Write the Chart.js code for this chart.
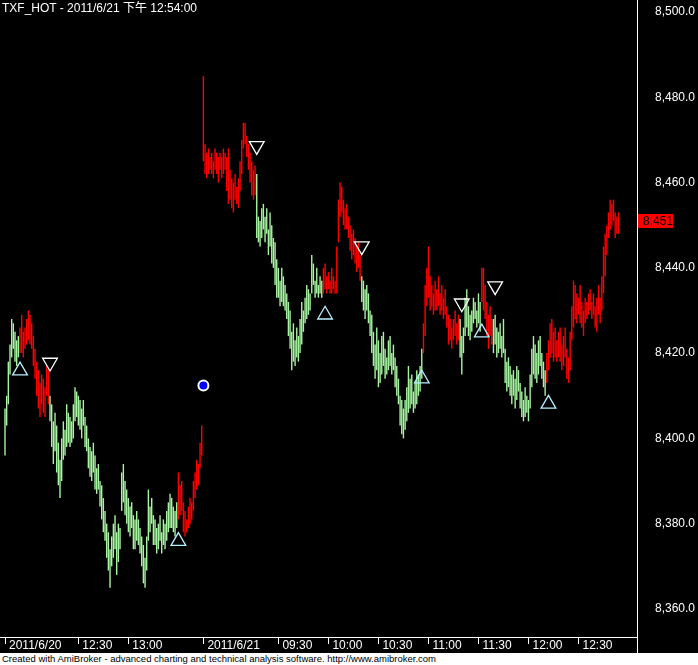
<!DOCTYPE html>
<html>
<head>
<meta charset="utf-8">
<script src="https://cdn.jsdelivr.net/npm/chart.js@4.4.0/dist/chart.umd.min.js"></script>
<style>
html, body { margin: 0; padding: 0; background: #000; width: 698px; height: 665px; overflow: hidden; }
#wrap { position: relative; width: 698px; height: 665px; }
#chart { position: absolute; left: 0; top: 0; }
#title { position: absolute; left: 2px; top: 0px; color: #fff; white-space: nowrap;
    font: 12px "Liberation Sans", Arial, "Noto Sans CJK TC", sans-serif; line-height: 16px; }
#foot { position: absolute; left: 0; top: 653px; width: 696px; height: 12px; padding-left: 2px;
    background: #fff; color: #000; white-space: nowrap;
    font: 9.5px "Liberation Sans", Arial, sans-serif; line-height: 12px; }
</style>
</head>
<body>
<div id="wrap">
    <canvas id="chart" width="698" height="653"></canvas>
    <div id="title">TXF_HOT - 2011/6/21 下午 12:54:00</div>
    <div id="foot">Created with AmiBroker - advanced charting and technical analysis software. http://www.amibroker.com</div>
</div>
<script>
// 1-minute bars: 2011/6/20 11:46-13:44 (0-118), 2011/6/21 08:45-12:54 (119-368)
const highs = [
    8407, 8410, 8418, 8422, 8428, 8427, 8425, 8423, 8424, 8426,
    8429, 8425, 8426, 8428, 8430, 8429, 8427, 8424, 8421, 8418,
    8416, 8413, 8415, 8414, 8412, 8417, 8416, 8410, 8408, 8404,
    8406, 8403, 8399, 8395, 8400, 8404, 8402, 8408, 8406, 8405,
    8404, 8408, 8412, 8411, 8410, 8409, 8407, 8409, 8405, 8403,
    8400, 8398, 8397, 8399, 8396, 8393, 8394, 8390, 8389, 8386,
    8383, 8380, 8378, 8374, 8377, 8380, 8382, 8378, 8380, 8379,
    8392, 8394, 8390, 8388, 8386, 8384, 8385, 8382, 8381, 8383,
    8381, 8379, 8377, 8375, 8372, 8377, 8388, 8384, 8386, 8382,
    8381, 8379, 8380, 8382, 8378, 8381, 8380, 8383, 8385, 8387,
    8386, 8384, 8383, 8385, 8392, 8389, 8390, 8385, 8383, 8381,
    8384, 8386, 8385, 8390, 8392, 8395, 8394, 8399, 8403, 8485,
    8469, 8467, 8468, 8466, 8467, 8465, 8468, 8467, 8466, 8467,
    8466, 8468, 8467, 8466, 8468, 8463, 8461, 8460, 8462, 8459,
    8461, 8465, 8470, 8474, 8474, 8471, 8469, 8467, 8465, 8463,
    8464, 8462, 8452, 8451, 8454, 8455, 8452, 8454, 8449, 8453,
    8450, 8447, 8446, 8442, 8440, 8437, 8440, 8438, 8436, 8434,
    8432, 8430, 8425, 8427, 8423, 8426, 8424, 8428, 8432, 8430,
    8433, 8436, 8435, 8434, 8443, 8441, 8437, 8440, 8436, 8438,
    8437, 8440, 8441, 8438, 8439, 8437, 8440, 8438, 8437, 8445,
    8456, 8460, 8459, 8456, 8454, 8455, 8452, 8450, 8448, 8449,
    8447, 8445, 8446, 8443, 8438, 8437, 8435, 8436, 8434, 8430,
    8429, 8425, 8422, 8426, 8423, 8420, 8424, 8425, 8421, 8419,
    8423, 8424, 8420, 8422, 8419, 8417, 8414, 8410, 8409, 8407,
    8409, 8412, 8417, 8414, 8415, 8411, 8413, 8416, 8415, 8417,
    8421, 8427, 8436, 8440, 8445, 8438, 8436, 8434, 8437, 8435,
    8438, 8434, 8436, 8433, 8435, 8431, 8429, 8428, 8426, 8428,
    8430, 8427, 8429, 8428, 8424, 8426, 8433, 8435, 8431, 8429,
    8430, 8433, 8432, 8430, 8434, 8432, 8440, 8440, 8436, 8432,
    8429, 8431, 8428, 8428, 8429, 8426, 8425, 8427, 8424, 8428,
    8421, 8418, 8419, 8417, 8415, 8416, 8414, 8417, 8416, 8413,
    8411, 8409, 8412, 8410, 8409, 8415, 8421, 8424, 8422, 8420,
    8423, 8424, 8420, 8418, 8416, 8420, 8423, 8427, 8428, 8425,
    8426, 8423, 8425, 8426, 8422, 8424, 8426, 8421, 8419, 8425,
    8431, 8437, 8436, 8434, 8433, 8436, 8432, 8430, 8433, 8432,
    8434, 8435, 8432, 8434, 8431, 8433, 8436, 8433, 8438, 8445,
    8448, 8450, 8453, 8456, 8455, 8456, 8453, 8452, 8453
];
const lows = [
    8396, 8403, 8408, 8415, 8419, 8421, 8418, 8417, 8419, 8420,
    8420, 8419, 8421, 8422, 8423, 8422, 8421, 8417, 8414, 8410,
    8407, 8405, 8408, 8406, 8405, 8410, 8408, 8404, 8398, 8394,
    8397, 8392, 8389, 8386, 8390, 8395, 8396, 8398, 8399, 8398,
    8399, 8400, 8404, 8405, 8403, 8402, 8400, 8403, 8398, 8397,
    8393, 8391, 8390, 8392, 8388, 8387, 8388, 8384, 8381, 8378,
    8376, 8372, 8369, 8365, 8370, 8372, 8374, 8368, 8371, 8374,
    8383, 8385, 8382, 8380, 8378, 8377, 8379, 8374, 8374, 8376,
    8375, 8373, 8370, 8366, 8365, 8369, 8376, 8378, 8380, 8375,
    8375, 8373, 8374, 8376, 8373, 8375, 8374, 8376, 8378, 8379,
    8379, 8378, 8377, 8379, 8381, 8382, 8383, 8378, 8377, 8378,
    8379, 8380, 8381, 8383, 8386, 8388, 8389, 8393, 8396, 8465,
    8462, 8461, 8462, 8463, 8462, 8461, 8463, 8462, 8460, 8463,
    8461, 8462, 8463, 8458, 8455, 8456, 8454, 8453, 8456, 8455,
    8454, 8458, 8462, 8468, 8469, 8466, 8463, 8460, 8457, 8456,
    8457, 8447, 8446, 8445, 8447, 8449, 8446, 8448, 8443, 8445,
    8441, 8440, 8436, 8433, 8433, 8431, 8432, 8431, 8430, 8428,
    8424, 8421, 8416, 8418, 8417, 8419, 8418, 8420, 8422, 8425,
    8427, 8428, 8429, 8430, 8434, 8436, 8433, 8434, 8433, 8434,
    8433, 8434, 8435, 8434, 8435, 8434, 8434, 8435, 8434, 8434,
    8446, 8452, 8453, 8450, 8449, 8449, 8447, 8444, 8442, 8443,
    8441, 8439, 8440, 8437, 8432, 8430, 8428, 8430, 8427, 8424,
    8420, 8417, 8414, 8416, 8412, 8413, 8415, 8417, 8414, 8415,
    8416, 8417, 8415, 8416, 8412, 8410, 8408, 8403, 8401, 8400,
    8402, 8404, 8406, 8407, 8408, 8406, 8407, 8408, 8410, 8411,
    8414, 8420, 8424, 8431, 8433, 8430, 8431, 8429, 8430, 8430,
    8431, 8429, 8430, 8428, 8429, 8426, 8422, 8423, 8421, 8423,
    8424, 8422, 8423, 8419, 8415, 8420, 8424, 8426, 8424, 8423,
    8425, 8427, 8428, 8426, 8427, 8425, 8432, 8430, 8428, 8424,
    8421, 8424, 8422, 8420, 8422, 8419, 8420, 8421, 8419, 8420,
    8413, 8411, 8412, 8410, 8408, 8410, 8407, 8409, 8411, 8407,
    8405, 8404, 8405, 8406, 8404, 8407, 8412, 8415, 8414, 8413,
    8415, 8417, 8414, 8412, 8410, 8413, 8416, 8419, 8420, 8418,
    8419, 8418, 8419, 8418, 8416, 8417, 8419, 8414, 8413, 8416,
    8423, 8426, 8428, 8427, 8429, 8427, 8426, 8424, 8427, 8428,
    8429, 8430, 8428, 8429, 8426, 8425, 8429, 8427, 8430, 8434,
    8438, 8443, 8447, 8449, 8450, 8451, 8447, 8448, 8448
];
// bar index ranges drawn in red, the rest light green
const redRuns = [[9, 26], [104, 150], [191, 213], [251, 272], [286, 292], [325, 368]];

// signal shapes (bar index, price)
const buyIdx = [9, 104, 192, 250, 286, 326];
const buyPrice = [8415.9, 8375.9, 8429.0, 8414.0, 8424.8, 8408.1];
const sellIdx = [27, 151, 214, 274, 294];
const sellPrice = [8417.8, 8468.6, 8445.1, 8431.7, 8435.7];
const dotIdx = [119];
const dotPrice = [8412.4];

const lastPrice = 8451;

const xTickIdx = [0, 44, 74, 119, 164, 194, 224, 254, 284, 314, 344];
const xTickText = ["2011/6/20", "12:30", "13:00", "2011/6/21", "09:30", "10:00", "10:30", "11:00", "11:30", "12:00", "12:30"];
const yTickVals = [8360, 8380, 8400, 8420, 8440, 8460, 8480, 8500];

const X_MIN = -3.0, X_MAX = 379.1;
const Y_MIN = 8353.42, Y_MAX = 8502.82;

const FONT = "'Liberation Sans', Arial, sans-serif";
const RED = "#ff0000";
const GREEN = "#a6f5a0";

function isRed(i) {
    return redRuns.some(r => i >= r[0] && i <= r[1]);
}

function fmtPrice(v, decimals) {
    return v.toLocaleString("en-US", { minimumFractionDigits: decimals, maximumFractionDigits: decimals });
}

const barData = highs.map((h, i) => ({ x: i, y: [lows[i], h] }));
const barColors = highs.map((h, i) => isRed(i) ? RED : GREEN);

const priceTag = {
    id: "priceTag",
    afterDraw(chart) {
        const ctx = chart.ctx;
        const area = chart.chartArea;
        const y = chart.scales.y.getPixelForValue(lastPrice);
        ctx.save();
        // frame line continuing through the date strip
        ctx.strokeStyle = "#fff";
        ctx.lineWidth = 1;
        ctx.beginPath();
        ctx.moveTo(area.right + 0.5, area.bottom);
        ctx.lineTo(area.right + 0.5, chart.height);
        ctx.stroke();
        ctx.fillStyle = RED;
        ctx.fillRect(area.right + 1, Math.round(y) - 7, 35, 14);
        ctx.fillStyle = "#000";
        ctx.font = "12px " + FONT;
        ctx.textBaseline = "middle";
        ctx.fillText(fmtPrice(lastPrice, 0), area.right + 6, Math.round(y) + 0.5);
        ctx.restore();
    },
};

new Chart(document.getElementById("chart"), {
    type: "bar",
    data: {
        datasets: [
            {
                type: "bar",
                data: barData,
                backgroundColor: barColors,
                borderWidth: 0,
                barThickness: 1.4,
                inflateAmount: 0,
                order: 3,
            },
            {
                type: "scatter",
                data: buyIdx.map((x, i) => ({ x, y: buyPrice[i] })),
                pointStyle: "triangle",
                pointRadius: 8.5,
                borderColor: "#b8f0ff",
                backgroundColor: "rgba(0,0,0,0)",
                borderWidth: 1.3,
                order: 1,
            },
            {
                type: "scatter",
                data: sellIdx.map((x, i) => ({ x, y: sellPrice[i] })),
                pointStyle: "triangle",
                rotation: 180,
                pointRadius: 8.5,
                borderColor: "#ffffff",
                backgroundColor: "rgba(0,0,0,0)",
                borderWidth: 1.3,
                order: 1,
            },
            {
                type: "scatter",
                data: dotIdx.map((x, i) => ({ x, y: dotPrice[i] })),
                pointStyle: "circle",
                pointRadius: 5,
                borderColor: "#ffffff",
                backgroundColor: "#0000ff",
                borderWidth: 2,
                order: 0,
            },
        ],
    },
    options: {
        responsive: false,
        animation: false,
        events: [],
        layout: { padding: 0, autoPadding: false },
        plugins: { legend: { display: false }, tooltip: { enabled: false } },
        scales: {
            x: {
                type: "linear",
                min: X_MIN,
                max: X_MAX,
                offset: false,
                afterBuildTicks: s => { s.ticks = xTickIdx.map(v => ({ value: v })); },
                afterFit: s => { s.height = 16; s.paddingLeft = 0; s.paddingRight = 0; },
                grid: { display: true, drawOnChartArea: false, drawTicks: true, tickLength: 7, color: "#fff", offset: false },
                border: { display: true, color: "#fff", width: 1 },
                ticks: {
                    color: "#fff",
                    font: { family: FONT, size: 12 },
                    autoSkip: false,
                    maxRotation: 0,
                    align: "start",
                    labelOffset: 4,
                    padding: -6,
                    callback: v => xTickText[xTickIdx.indexOf(v)],
                },
            },
            y: {
                type: "linear",
                position: "right",
                min: Y_MIN,
                max: Y_MAX,
                afterBuildTicks: s => { s.ticks = yTickVals.map(v => ({ value: v })); },
                afterFit: s => { s.width = 61; s.paddingTop = 0; s.paddingBottom = 0; },
                grid: { display: false, drawTicks: false },
                border: { display: true, color: "#fff", width: 1 },
                ticks: {
                    color: "#fff",
                    font: { family: FONT, size: 12 },
                    padding: 18,
                    crossAlign: "near",
                    callback: v => fmtPrice(v, 1),
                },
            },
        },
    },
    plugins: [priceTag],
});
</script>
</body>
</html>
